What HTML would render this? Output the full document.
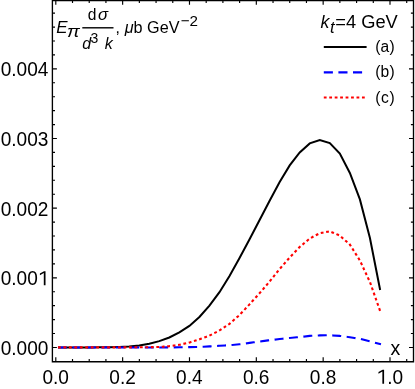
<!DOCTYPE html>
<html><head><meta charset="utf-8"><title>plot</title><style>html,body{margin:0;padding:0;background:#fff;}body{width:415px;height:389px;overflow:hidden;font-family:"Liberation Sans",sans-serif;}</style></head><body>
<svg width="415" height="389" viewBox="0 0 415 389" style="display:block;will-change:transform">
<rect width="415" height="389" fill="#fff"/>
<path d="M59.00,347.40 L69.03,347.40 L79.06,347.40 L89.09,347.40 L99.12,347.35 L109.15,347.30 L119.18,346.90 L129.21,346.40 L139.24,345.40 L149.27,343.70 L159.30,341.10 L169.33,337.50 L179.36,332.40 L189.39,325.90 L199.42,317.00 L209.45,305.70 L219.48,292.20 L229.51,276.00 L239.54,258.00 L249.57,239.20 L259.60,220.00 L269.63,200.80 L279.66,182.00 L289.69,165.40 L299.72,152.40 L309.75,143.40 L319.78,140.00 L329.81,143.10 L339.84,153.50 L349.87,173.00 L359.90,199.40 L369.93,238.00 L379.96,289.00" fill="none" stroke="#000" stroke-width="2" stroke-linecap="square" stroke-linejoin="miter"/>
<path d="M59.00,347.45 L69.03,347.45 L79.06,347.45 L89.09,347.45 L99.12,347.45 L109.15,347.45 L119.18,347.45 L129.21,347.45 L139.24,347.45 L149.27,347.45 L159.30,347.45 L169.33,347.40 L179.36,347.30 L189.39,347.10 L199.42,346.90 L209.45,346.40 L219.48,345.80 L229.51,345.20 L239.54,344.30 L249.57,342.90 L259.60,341.50 L269.63,340.20 L279.66,339.00 L289.69,338.00 L299.72,337.00 L309.75,335.90 L319.78,335.40 L329.81,335.25 L339.84,335.90 L349.87,337.20 L359.90,338.80 L369.93,341.30 L379.96,344.00" fill="none" stroke="#0000ff" stroke-width="2.1" stroke-dasharray="6.85 7.62" stroke-linecap="square"/>
<path d="M59.00,347.40 L69.03,347.40 L79.06,347.40 L89.09,347.40 L99.12,347.40 L109.15,347.40 L119.18,347.40 L129.21,347.35 L139.24,347.30 L149.27,347.20 L159.30,347.00 L169.33,346.20 L179.36,344.80 L189.39,342.50 L199.42,339.30 L209.45,335.60 L219.48,330.50 L229.51,323.80 L239.54,315.00 L249.57,304.30 L259.60,293.20 L269.63,281.50 L279.66,269.00 L289.69,257.50 L299.72,247.00 L309.75,238.50 L319.78,233.20 L329.81,231.30 L339.84,235.60 L349.87,244.60 L359.90,260.50 L369.93,282.00 L379.96,310.50" fill="none" stroke="#ff0000" stroke-width="2.1" stroke-dasharray="0.7 4.765" stroke-linecap="square"/>
<g stroke="#000" stroke-width="1.35" fill="none">
<path d="M52.4,0 V362.375 M51.725,361.7 H414.175 M413.5,361.7 V0 M52.4,0.65 H413.5"/>
</g>
<path d="M55.80,361.7 v-4.5 M55.80,0 V4.65 M72.51,361.7 v-2.6 M72.51,0 V3.0 M89.22,361.7 v-2.6 M89.22,0 V3.0 M105.93,361.7 v-2.6 M105.93,0 V3.0 M122.64,361.7 v-4.5 M122.64,0 V4.65 M139.35,361.7 v-2.6 M139.35,0 V3.0 M156.06,361.7 v-2.6 M156.06,0 V3.0 M172.77,361.7 v-2.6 M172.77,0 V3.0 M189.48,361.7 v-4.5 M189.48,0 V4.65 M206.19,361.7 v-2.6 M206.19,0 V3.0 M222.90,361.7 v-2.6 M222.90,0 V3.0 M239.61,361.7 v-2.6 M239.61,0 V3.0 M256.32,361.7 v-4.5 M256.32,0 V4.65 M273.03,361.7 v-2.6 M273.03,0 V3.0 M289.74,361.7 v-2.6 M289.74,0 V3.0 M306.45,361.7 v-2.6 M306.45,0 V3.0 M323.16,361.7 v-4.5 M323.16,0 V4.65 M339.87,361.7 v-2.6 M339.87,0 V3.0 M356.58,361.7 v-2.6 M356.58,0 V3.0 M373.29,361.7 v-2.6 M373.29,0 V3.0 M390.00,361.7 v-4.5 M390.00,0 V4.65 M406.71,361.7 v-2.6 M406.71,0 V3.0 M52.4,347.45 h4.5 M413.5,347.45 h-4.5 M52.4,333.52 h2.6 M413.5,333.52 h-2.6 M52.4,319.59 h2.6 M413.5,319.59 h-2.6 M52.4,305.66 h2.6 M413.5,305.66 h-2.6 M52.4,291.73 h2.6 M413.5,291.73 h-2.6 M52.4,277.80 h4.5 M413.5,277.80 h-4.5 M52.4,263.87 h2.6 M413.5,263.87 h-2.6 M52.4,249.94 h2.6 M413.5,249.94 h-2.6 M52.4,236.01 h2.6 M413.5,236.01 h-2.6 M52.4,222.08 h2.6 M413.5,222.08 h-2.6 M52.4,208.15 h4.5 M413.5,208.15 h-4.5 M52.4,194.22 h2.6 M413.5,194.22 h-2.6 M52.4,180.29 h2.6 M413.5,180.29 h-2.6 M52.4,166.36 h2.6 M413.5,166.36 h-2.6 M52.4,152.43 h2.6 M413.5,152.43 h-2.6 M52.4,138.50 h4.5 M413.5,138.50 h-4.5 M52.4,124.57 h2.6 M413.5,124.57 h-2.6 M52.4,110.64 h2.6 M413.5,110.64 h-2.6 M52.4,96.71 h2.6 M413.5,96.71 h-2.6 M52.4,82.78 h2.6 M413.5,82.78 h-2.6 M52.4,68.85 h4.5 M413.5,68.85 h-4.5 M52.4,54.92 h2.6 M413.5,54.92 h-2.6 M52.4,40.99 h2.6 M413.5,40.99 h-2.6 M52.4,27.06 h2.6 M413.5,27.06 h-2.6 M52.4,13.13 h2.6 M413.5,13.13 h-2.6" stroke="#000" stroke-width="1.15" fill="none"/>
<g font-family="Liberation Sans, sans-serif" font-size="20.3px" fill="#000">
<g transform="translate(55.70,383.7) scale(0.94,1)">
<text x="0" y="0" text-anchor="middle">0.0</text>
</g>
<g transform="translate(122.54,383.7) scale(0.94,1)">
<text x="0" y="0" text-anchor="middle">0.2</text>
</g>
<g transform="translate(189.38,383.7) scale(0.94,1)">
<text x="0" y="0" text-anchor="middle">0.4</text>
</g>
<g transform="translate(256.22,383.7) scale(0.94,1)">
<text x="0" y="0" text-anchor="middle">0.6</text>
</g>
<g transform="translate(323.06,383.7) scale(0.94,1)">
<text x="0" y="0" text-anchor="middle">0.8</text>
</g>
<g transform="translate(389.90,383.7) scale(0.94,1)">
<path transform="translate(-14.11,0) scale(0.009912,-0.009912)" d="M615,0 V1237 L197,1000 V1175 L640,1409 H800 V0 Z" fill="#000"/>
<text x="-2.82" y="0">.0</text>
</g>
<g transform="translate(48.4,354.85) scale(0.94,1)">
<text x="0" y="0" text-anchor="end">0.000</text>
</g>
<g transform="translate(48.4,285.20) scale(0.94,1)">
<text x="-11.29" y="0" text-anchor="end">0.00</text>
<path transform="translate(-10.99,0) scale(0.009912,-0.009912)" d="M615,0 V1237 L197,1000 V1175 L640,1409 H800 V0 Z" fill="#000"/>
</g>
<g transform="translate(48.4,215.55) scale(0.94,1)">
<text x="0" y="0" text-anchor="end">0.002</text>
</g>
<g transform="translate(48.4,145.90) scale(0.94,1)">
<text x="0" y="0" text-anchor="end">0.003</text>
</g>
<g transform="translate(48.4,76.25) scale(0.94,1)">
<text x="0" y="0" text-anchor="end">0.004</text>
</g>
<text x="390.6" y="355.2" font-size="19.5px">x</text>
</g>
<g font-family="Liberation Sans, sans-serif" fill="#000">
<text transform="translate(56.2,32.8) scale(1.08,1)" font-size="15.7px" font-style="italic">E</text>
<text transform="translate(66.9,36.6) scale(1.22,1)" font-size="15.7px" font-style="italic">π</text>
<text x="87.7" y="19.9" font-size="15.6px">d</text><text transform="translate(98.0,19.9) scale(1.07,1)" font-size="15.6px" font-style="italic">σ</text>
<rect x="82.3" y="27.1" width="31.2" height="1.4" fill="#000"/>
<text x="82.2" y="48.5" font-size="16px" font-style="italic">d</text>
<text x="90.4" y="43.3" font-size="14px">3</text>
<text x="104.7" y="48.5" font-size="16px" font-style="italic">k</text>
<text x="115.5" y="32.8" font-size="15.7px">,</text>
<text x="124.7" y="32.8" font-size="16.2px"><tspan font-style="italic">μ</tspan>b GeV</text>
<text x="180.7" y="25.5" font-size="15.2px">−2</text>
<text x="320.5" y="28.4" font-size="17.8px" font-style="italic">k</text>
<text x="330.0" y="32.6" font-size="16.6px" font-style="italic">t</text>
<text x="335.3" y="28.4" font-size="18.3px">=4 GeV</text>
<text x="375.2" y="52.2" font-size="15.6px" textLength="19.5" lengthAdjust="spacing">(a)</text>
<text x="375.2" y="77.25" font-size="15.6px" textLength="19.5" lengthAdjust="spacing">(b)</text>
<text x="375.2" y="102.5" font-size="15.6px" textLength="19.5" lengthAdjust="spacing">(c)</text>
</g>
<path d="M323.8,47.1 H366.6" stroke="#000" stroke-width="2" fill="none"/>
<path d="M323.8,72.35 H366.6" stroke="#0000ff" stroke-width="2.1" stroke-dasharray="9.1 5.5" fill="none"/>
<path d="M323.8,97.55 H366.6" stroke="#ff0000" stroke-width="2.1" stroke-dasharray="2.8 2.65" fill="none"/>
</svg>
</body></html>
